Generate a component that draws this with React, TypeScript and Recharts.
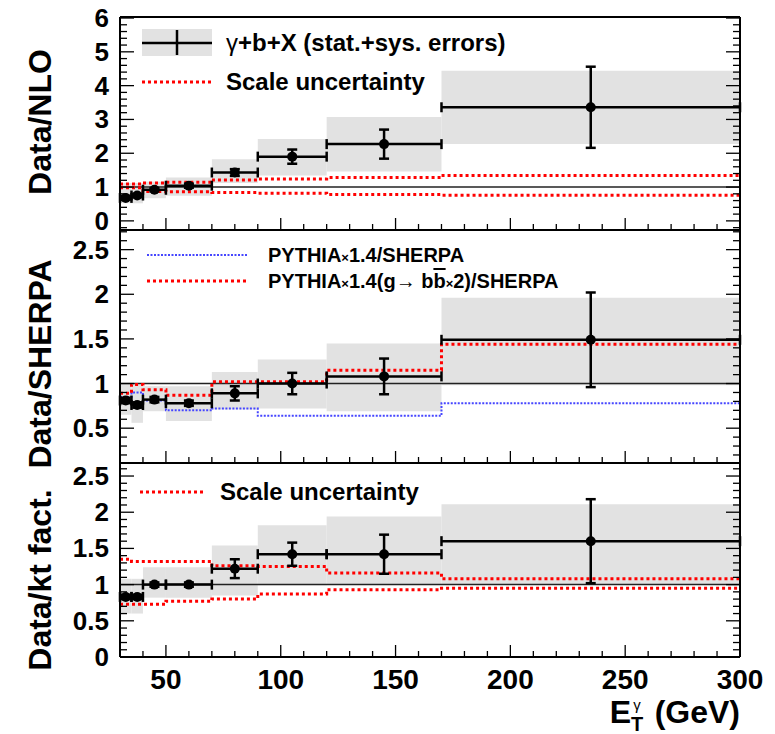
import React from "react";
import {
  ComposedChart,
  Line,
  Scatter,
  ErrorBar,
  XAxis,
  YAxis,
  ReferenceArea,
  ReferenceLine,
  Legend,
} from "recharts";

// E_T^gamma bins (GeV)
const binLow = [30, 35, 40, 50, 70, 90, 120, 170];
const binHigh = [35, 40, 50, 70, 90, 120, 170, 300];
const binCenter = [32.5, 37.5, 45, 60, 80, 105, 145, 235];

// top panel: Data/NLO
const nloRatio = [0.68, 0.75, 0.92, 1.04, 1.43, 1.9, 2.27, 3.36];
const nloErr = [0.05, 0.05, 0.05, 0.06, 0.1, 0.21, 0.43, 1.2];
const nloBandLow = [0.52, 0.52, 0.67, 0.74, 1.12, 1.34, 1.46, 2.27];
const nloBandHigh = [1.12, 1.12, 1.16, 1.28, 1.82, 2.42, 3.07, 4.44];
const nloScaleUp = [1.09, 1.09, 1.12, 1.14, 1.21, 1.24, 1.28, 1.34];
const nloScaleDown = [0.98, 0.98, 0.87, 0.86, 0.84, 0.82, 0.78, 0.76];

// middle panel: Data/SHERPA
const sherpaRatio = [0.81, 0.76, 0.82, 0.78, 0.89, 1.0, 1.08, 1.49];
const sherpaErr = [0.03, 0.03, 0.03, 0.03, 0.08, 0.12, 0.2, 0.53];
const sherpaBandLow = [0.65, 0.56, 0.69, 0.58, 0.71, 0.72, 0.69, 0.98];
const sherpaBandHigh = [0.99, 0.99, 0.97, 0.97, 1.13, 1.27, 1.45, 1.96];
const pythiaRatio = [0.85, 0.9, 0.81, 0.7, 0.72, 0.64, 0.64, 0.78];
const pythiaBbRatio = [0.89, 0.99, 0.93, 0.87, 1.02, 1.02, 1.15, 1.44];

// bottom panel: Data/kt fact.
const ktRatio = [0.83, 0.83, 1.0, 1.0, 1.22, 1.42, 1.42, 1.6];
const ktErr = [0.03, 0.03, 0.03, 0.03, 0.13, 0.16, 0.27, 0.58];
const ktBandLow = [0.6, 0.6, 0.82, 0.82, 0.85, 0.99, 1.0, 1.0];
const ktBandHigh = [1.08, 1.08, 1.24, 1.24, 1.54, 1.82, 1.94, 2.11];
const ktScaleUp = [1.35, 1.32, 1.32, 1.32, 1.26, 1.25, 1.16, 1.08];
const ktScaleDown = [0.73, 0.73, 0.73, 0.77, 0.8, 0.87, 0.93, 0.95];

// axis ticks
const xMajor = [50, 100, 150, 200, 250, 300];
const nloMajor = [0, 1, 2, 3, 4, 5, 6];
const sherpaMajor = [0.5, 1, 1.5, 2, 2.5];
const ktMajor = [0, 0.5, 1, 1.5, 2, 2.5];

const FONT = "'Liberation Sans', Arial, Helvetica, sans-serif";
const RED = "#ff0000";
const BLUE = "#4646ff";
const GRAY = "#e2e2e2";

const range = (from: number, to: number, step: number) => {
  const out: number[] = [];
  for (let v = from; v <= to + 1e-9; v += step) out.push(Math.round(v * 100) / 100);
  return out;
};
const has = (arr: number[], v: number) => arr.some((a) => Math.abs(a - v) < 1e-6);

const xTicks = range(30, 300, 10);

// step lines: value at each left edge, last value repeated at 300
const stepRows = (series: Record<string, number[]>) =>
  [...binLow, binHigh[binHigh.length - 1]].map((x, i) => {
    const row: Record<string, number> = { x };
    Object.keys(series).forEach((k) => {
      row[k] = series[k][Math.min(i, binLow.length - 1)];
    });
    return row;
  });

const pointRows = (vals: number[], err: number[]) =>
  binCenter.map((x, i) => ({
    x,
    y: vals[i],
    ex: [x - binLow[i], binHigh[i] - x],
    ey: err[i],
  }));

const LeftTick = (p: any) => {
  const major = has(p.majors, p.payload.value);
  return (
    <g>
      <line x1={p.x} x2={p.x + (major ? 14 : 7)} y1={p.y} y2={p.y} stroke="#000" strokeWidth={1.3} />
      {major && (
        <text x={p.x - 11} y={p.y + 9} textAnchor="end" fontSize={26} fontWeight="bold" fontFamily={FONT} fill="#000">
          {String(p.payload.value)}
        </text>
      )}
    </g>
  );
};

const RightTick = (p: any) => {
  const major = has(p.majors, p.payload.value);
  return <line x1={p.x} x2={p.x - (major ? 14 : 7)} y1={p.y} y2={p.y} stroke="#000" strokeWidth={1.3} />;
};

const BottomTick = (p: any) => {
  const major = has(xMajor, p.payload.value);
  return (
    <g>
      <line x1={p.x} x2={p.x} y1={p.y} y2={p.y - (major ? 12 : 6)} stroke="#000" strokeWidth={1.3} />
      {major && p.labels && (
        <text x={p.x} y={p.y + 32} textAnchor="middle" fontSize={28} fontWeight="bold" fontFamily={FONT} fill="#000">
          {String(p.payload.value)}
        </text>
      )}
    </g>
  );
};

const TopTick = (p: any) => {
  const major = has(xMajor, p.payload.value);
  return <line x1={p.x} x2={p.x} y1={p.y} y2={p.y + (major ? 12 : 6)} stroke="#000" strokeWidth={1.3} />;
};

interface StepSeries {
  key: string;
  color: string;
  dash: string;
  width: number;
}

interface PanelProps {
  top: number;
  height: number;
  margin: { top: number; right: number; bottom: number; left: number };
  yDomain: [number, number];
  yMajor: number[];
  yMinor: number[];
  rows: Record<string, number>[];
  steps: StepSeries[];
  points: { x: number; y: number; ex: number[]; ey: number }[];
  bandLow: number[];
  bandHigh: number[];
  title: string;
  titleY: number;
  xLabels?: boolean;
  legend: React.ReactNode;
}

function Panel(props: PanelProps) {
  const { top, height, margin, yDomain, yMajor, yMinor, rows, steps, points, bandLow, bandHigh } = props;
  const yTicks = [...yMinor, ...yMajor.filter((v) => !has(yMinor, v))].sort((a, b) => a - b);
  const frame = { stroke: "#000", strokeWidth: 2 };
  return (
    <div style={{ position: "absolute", left: 0, top, width: 775, height }}>
      <ComposedChart width={775} height={height} data={rows} margin={margin}>
        {binLow.map((lo, i) => (
          <ReferenceArea
            key={lo}
            x1={lo}
            x2={binHigh[i]}
            y1={bandLow[i]}
            y2={bandHigh[i]}
            fill={GRAY}
            fillOpacity={1}
            stroke="none"
            ifOverflow="hidden"
          />
        ))}
        <ReferenceLine y={1} stroke="#222" strokeWidth={1.5} />
        {steps.map((s) => (
          <Line
            key={s.key}
            dataKey={s.key}
            type="stepAfter"
            stroke={s.color}
            strokeWidth={s.width}
            strokeDasharray={s.dash}
            dot={false}
            activeDot={false}
            isAnimationActive={false}
          />
        ))}
        <Scatter
          data={points}
          dataKey="y"
          isAnimationActive={false}
          shape={(p: any) => <circle cx={p.cx} cy={p.cy} r={5} fill="#000" />}
        >
          <ErrorBar dataKey="ex" direction="x" width={5} stroke="#000" strokeWidth={2.5} isAnimationActive={false} />
          <ErrorBar dataKey="ey" direction="y" width={5} stroke="#000" strokeWidth={2.5} isAnimationActive={false} />
        </Scatter>
        <XAxis
          dataKey="x"
          type="number"
          domain={[30, 300]}
          allowDataOverflow
          ticks={xTicks}
          interval={0}
          height={1}
          tickSize={0}
          tickMargin={0}
          axisLine={frame}
          tickLine={false}
          tick={(p: any) => <BottomTick {...p} labels={props.xLabels} />}
          label={
            props.xLabels
              ? (() => (
                  <text x={740} y={height - 11} textAnchor="end" fontSize={32} fontWeight="bold" fontFamily={FONT} fill="#000">
                    E
                    <tspan fontSize={20} dy={8}>T</tspan>
                    <tspan fontSize={15} fontWeight="normal" dx={-10} dy={-21}>γ</tspan>
                    <tspan dx={5} dy={13}> (GeV)</tspan>
                  </text>
                )) as any
              : undefined
          }
        />
        <XAxis
          xAxisId="top"
          orientation="top"
          type="number"
          domain={[30, 300]}
          allowDataOverflow
          ticks={xTicks}
          interval={0}
          height={1}
          tickSize={0}
          tickMargin={0}
          axisLine={frame}
          tickLine={false}
          tick={(p: any) => <TopTick {...p} />}
        />
        <YAxis
          dataKey="y"
          type="number"
          domain={yDomain}
          allowDataOverflow
          ticks={yTicks}
          interval={0}
          width={120}
          tickSize={0}
          tickMargin={0}
          axisLine={frame}
          tickLine={false}
          tick={(p: any) => <LeftTick {...p} majors={yMajor} />}
          label={
            (() => (
              <text
                x={40}
                y={props.titleY}
                transform={`rotate(-90 40 ${props.titleY})`}
                textAnchor="middle"
                dominantBaseline="central"
                fontSize={32}
                fontWeight="bold"
                fontFamily={FONT}
                fill="#000"
              >
                {props.title}
              </text>
            )) as any
          }
        />
        <YAxis
          yAxisId="right"
          orientation="right"
          type="number"
          domain={yDomain}
          allowDataOverflow
          ticks={yTicks}
          interval={0}
          width={1}
          tickSize={0}
          tickMargin={0}
          axisLine={frame}
          tickLine={false}
          tick={(p: any) => <RightTick {...p} majors={yMajor} />}
        />
        <Legend
          layout="horizontal"
          verticalAlign="middle"
          align="center"
          wrapperStyle={{ left: 0, top: 0, width: 775, height, pointerEvents: "none" }}
          content={() => props.legend}
        />
      </ComposedChart>
    </div>
  );
}

const txt = { fontWeight: "bold" as const, fontFamily: FONT, fill: "#000" };

const nloLegend = (
  <svg width={775} height={240} style={{ position: "absolute", left: 0, top: 0 }}>
    <rect x={142} y={29} width={70} height={27} fill={GRAY} />
    <line x1={142} x2={212} y1={43} y2={43} stroke="#000" strokeWidth={2.5} />
    <line x1={177} x2={177} y1={30} y2={55} stroke="#000" strokeWidth={2.5} />
    <text x={226} y={51} fontSize={24} {...txt}>
      <tspan fontWeight="normal">γ</tspan>+b+X (stat.+sys. errors)
    </text>
    <line x1={142} x2={212} y1={82} y2={82} stroke={RED} strokeWidth={3} strokeDasharray="3 3" />
    <text x={226} y={90} fontSize={24} {...txt}>
      Scale uncertainty
    </text>
  </svg>
);

const sherpaLegend = (
  <svg width={775} height={253} style={{ position: "absolute", left: 0, top: 0 }}>
    <line x1={147} x2={247} y1={35} y2={35} stroke={BLUE} strokeWidth={2} strokeDasharray="2 1.5" />
    <text x={268} y={42} fontSize={20} {...txt}>
      PYTHIA<tspan fontSize={13}>×</tspan>1.4/SHERPA
    </text>
    <line x1={147} x2={247} y1={61} y2={61} stroke={RED} strokeWidth={3} strokeDasharray="3 3" />
    <text x={268} y={68} fontSize={20} {...txt}>
      PYTHIA<tspan fontSize={13}>×</tspan>1.4(g<tspan fontWeight="normal">→</tspan> b
      <tspan style={{ textDecoration: "overline" }}>b</tspan>
      <tspan fontSize={13}>×</tspan>2)/SHERPA
    </text>
  </svg>
);

const ktLegend = (
  <svg width={775} height={281} style={{ position: "absolute", left: 0, top: 0 }}>
    <line x1={140} x2={203} y1={39} y2={39} stroke={RED} strokeWidth={3} strokeDasharray="3 3" />
    <text x={220} y={47} fontSize={24} {...txt}>
      Scale uncertainty
    </text>
  </svg>
);

const redDots = { color: RED, dash: "3 3", width: 3 };

export default function App() {
  return (
    <div style={{ position: "absolute", left: 0, top: 0, width: 775, height: 734, background: "#fff" }}>
      <Panel
        top={0}
        height={240}
        margin={{ top: 16, right: 34, bottom: 9, left: 0 }}
        yDomain={[-0.27, 6.03]}
        yMajor={nloMajor}
        yMinor={range(-0.2, 6, 0.2)}
        rows={stepRows({ up: nloScaleUp, down: nloScaleDown })}
        steps={[{ key: "up", ...redDots }, { key: "down", ...redDots }]}
        points={pointRows(nloRatio, nloErr)}
        bandLow={nloBandLow}
        bandHigh={nloBandHigh}
        title="Data/NLO"
        titleY={122}
        legend={nloLegend}
      />
      <Panel
        top={220}
        height={253}
        margin={{ top: 9, right: 34, bottom: 9, left: 0 }}
        yDomain={[0.11, 2.72]}
        yMajor={sherpaMajor}
        yMinor={range(0.2, 2.7, 0.1)}
        rows={stepRows({ pythia: pythiaRatio, pythiaBb: pythiaBbRatio })}
        steps={[
          { key: "pythia", color: BLUE, dash: "2 1.5", width: 2 },
          { key: "pythiaBb", ...redDots },
        ]}
        points={pointRows(sherpaRatio, sherpaErr)}
        bandLow={sherpaBandLow}
        bandHigh={sherpaBandHigh}
        title="Data/SHERPA"
        titleY={144}
        legend={sherpaLegend}
      />
      <Panel
        top={453}
        height={281}
        margin={{ top: 9, right: 34, bottom: 76, left: 0 }}
        yDomain={[0, 2.68]}
        yMajor={ktMajor}
        yMinor={range(0, 2.6, 0.1)}
        rows={stepRows({ up: ktScaleUp, down: ktScaleDown })}
        steps={[{ key: "up", ...redDots }, { key: "down", ...redDots }]}
        points={pointRows(ktRatio, ktErr)}
        bandLow={ktBandLow}
        bandHigh={ktBandHigh}
        title="Data/kt fact."
        titleY={127}
        xLabels
        legend={ktLegend}
      />
    </div>
  );
}
